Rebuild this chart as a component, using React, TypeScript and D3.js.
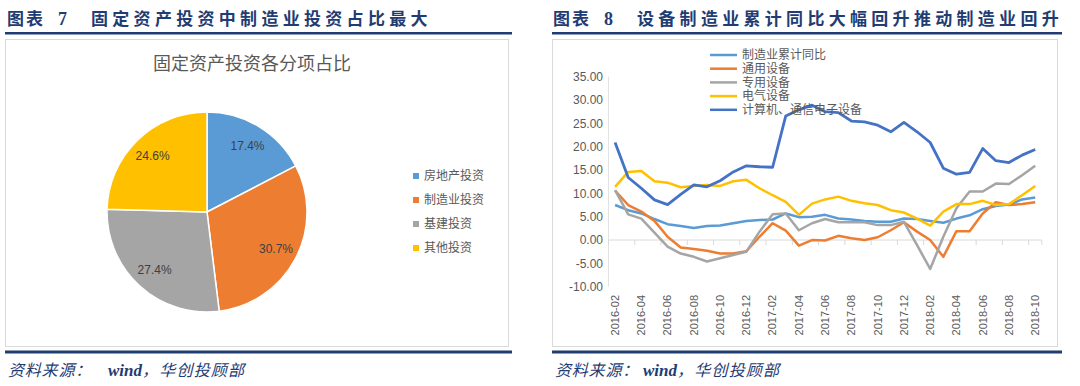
import React from "react";
import * as d3 from "d3";

// ---------- Data ----------
const pieCategories = ["房地产投资", "制造业投资", "基建投资", "其他投资"];
const pieValues = [17.4, 30.7, 27.4, 24.6];
const pieColors = ["#5B9BD5", "#ED7D31", "#A5A5A5", "#FFC000"];

const months = [
  "2016-02", "2016-03", "2016-04", "2016-05", "2016-06", "2016-07", "2016-08", "2016-09",
  "2016-10", "2016-11", "2016-12", "2017-01", "2017-02", "2017-03", "2017-04", "2017-05",
  "2017-06", "2017-07", "2017-08", "2017-09", "2017-10", "2017-11", "2017-12", "2018-01",
  "2018-02", "2018-03", "2018-04", "2018-05", "2018-06", "2018-07", "2018-08", "2018-09",
  "2018-10",
];
const manufacturing = [7.5, 6.4, 5.7, 4.5, 3.4, 3.0, 2.6, 3.0, 3.1, 3.6, 4.1, 4.3, 4.4, 5.7, 4.9, 5.0, 5.4, 4.6, 4.4, 4.1, 3.9, 3.9, 4.6, 4.5, 4.1, 3.7, 4.6, 5.3, 6.6, 7.3, 7.6, 8.7, 9.1];
const generalEquip = [10.6, 7.5, 6.1, 4.1, 0.7, -1.6, -1.9, -2.3, -2.9, -2.9, -2.4, 0.7, 3.6, 2.0, -1.2, 0.0, -0.1, 0.9, 0.4, 0.0, 0.6, 2.1, 3.8, 1.8, 0.0, -3.6, 1.9, 1.9, 5.7, 8.1, 7.5, 7.7, 8.1];
const specialEquip = [10.7, 5.5, 4.6, 1.6, -1.4, -2.9, -3.6, -4.6, -3.9, -3.2, -2.5, 1.8, 5.5, 5.7, 2.1, 3.6, 4.5, 3.8, 3.8, 3.8, 3.2, 3.2, 3.9, -1.1, -6.2, 0.7, 6.8, 10.4, 10.4, 12.1, 12.0, 13.9, 15.9];
const electricalEquip = [11.4, 14.6, 14.8, 12.6, 12.3, 11.3, 11.6, 11.8, 11.6, 12.6, 12.9, 11.1, 9.6, 8.2, 5.4, 7.8, 8.7, 9.3, 8.4, 7.9, 7.5, 6.4, 5.9, 4.6, 3.1, 6.1, 7.7, 7.7, 8.4, 7.5, 7.7, 9.6, 11.6];
const computerEquip = [20.9, 13.4, 11.1, 8.6, 7.6, 9.8, 11.8, 11.4, 12.7, 14.6, 15.9, 15.7, 15.6, 26.6, 27.9, 28.9, 27.5, 27.3, 25.5, 25.3, 24.6, 23.2, 25.2, 23.2, 20.9, 15.4, 14.1, 14.5, 19.6, 17.0, 16.6, 18.2, 19.4];

const seriesNames = ["制造业累计同比", "通用设备", "专用设备", "电气设备", "计算机、通信电子设备"];
const seriesValues = [manufacturing, generalEquip, specialEquip, electricalEquip, computerEquip];
const seriesColors = ["#5B9BD5", "#ED7D31", "#A5A5A5", "#FFC000", "#4472C4"];
const yTicks = [35, 30, 25, 20, 15, 10, 5, 0, -5, -10];

// ---------- Styles ----------
const NAVY = "#1F3C73";
const CJK = "'Noto Sans CJK SC', 'Noto Sans', sans-serif";
const NUM = "'Liberation Sans', Arial, 'Noto Sans CJK SC', sans-serif";
const SERIF = "'Liberation Serif', 'DejaVu Serif', serif";

function Header({ x, num, title }: { x: number; num: string; title: string }) {
  return (
    <g fill={NAVY} fontWeight={700}>
      <text x={x} y={25} fontFamily={CJK} fontSize={17} letterSpacing={2}>图表</text>
      <text x={x + 51} y={25} fontFamily={SERIF} fontSize={18}>{num}</text>
      <text x={x + 84} y={25} fontFamily={CJK} fontSize={17} letterSpacing={4.3}>{title}</text>
    </g>
  );
}

function Footer({ x, gap }: { x: number; gap: number }) {
  return (
    <text x={x} y={376} fontStyle="italic" fontSize={16} fill={NAVY} fontFamily={CJK}>
      <tspan letterSpacing={0.8}>资料来源：</tspan>
      <tspan dx={gap} fontFamily={SERIF} fontWeight={700} fontSize={17}>wind</tspan>
      <tspan letterSpacing={1.2}>，华创投顾部</tspan>
    </text>
  );
}

function PiePanel() {
  const cx = 207, cy = 212, r = 100;
  const pie = d3.pie<number>().sort(null).value((d) => d);
  const arcs = pie(pieValues);
  const arc = d3.arc<d3.PieArcDatum<number>>().innerRadius(0).outerRadius(r);
  const labelArc = d3.arc<d3.PieArcDatum<number>>().innerRadius(r * 0.78).outerRadius(r * 0.78);
  return (
    <g>
      <Header x={7} num="7" title="固定资产投资中制造业投资占比最大" />
      <rect x={5} y={32} width={507} height={2.5} fill={NAVY} />
      <rect x={5.5} y={39.5} width={503} height={307} fill="#fff" stroke="#d9d9d9" />
      <text x={252} y={70} textAnchor="middle" fontFamily={CJK} fontSize={18} fill="#595959">
        固定资产投资各分项占比
      </text>
      <g transform={`translate(${cx},${cy})`}>
        {arcs.map((a, i) => (
          <path key={i} d={arc(a) || ""} fill={pieColors[i]} stroke="#fff" strokeWidth={1.5} />
        ))}
        {arcs.map((a, i) => {
          const [lx, ly] = labelArc.centroid(a);
          return (
            <text key={i} x={lx} y={ly} dy="0.35em" textAnchor="middle" fontFamily={NUM} fontSize={12} fill="#404040">
              {pieValues[i].toFixed(1)}%
            </text>
          );
        })}
      </g>
      {pieCategories.map((c, i) => (
        <g key={c} transform={`translate(416,${176 + i * 24})`}>
          <rect x={-3} y={-3} width={6} height={6} fill={pieColors[i]} />
          <text x={8} y={0} dy="0.35em" fontFamily={CJK} fontSize={12} fill="#595959">
            {c}
          </text>
        </g>
      ))}
      <rect x={5} y={350.5} width={507} height={3} fill={NAVY} />
      <Footer x={8} gap={16} />
    </g>
  );
}

function LinePanel() {
  const left = 608.5, right = 1041.8, top = 76.7, bottom = 286.7;
  const x = d3.scaleBand<string>().domain(months).range([left, right]).paddingInner(0).paddingOuter(0);
  const y = d3.scaleLinear().domain([-10, 35]).range([bottom, top]);
  const bw = x.bandwidth();
  const line = d3
    .line<number>()
    .x((_, i) => (x(months[i]) as number) + bw / 2)
    .y((d) => y(d));
  const y0 = y(0);
  return (
    <g>
      <Header x={553} num="8" title="设备制造业累计同比大幅回升推动制造业回升" />
      <rect x={552} y={32} width={510} height={2.5} fill={NAVY} />
      <rect x={552.5} y={39.5} width={505} height={307} fill="#fff" stroke="#d9d9d9" />
      {/* y axis */}
      <line x1={left} x2={left} y1={top} y2={bottom} stroke="#e3e3e3" />
      {yTicks.map((t) => (
        <text key={t} x={603} y={y(t)} dy="0.35em" textAnchor="end" fontFamily={NUM} fontSize={12} fill="#595959">
          {t.toFixed(2)}
        </text>
      ))}
      {/* zero axis */}
      <line x1={left} x2={right} y1={y0} y2={y0} stroke="#d9d9d9" />
      {months.map((m, i) =>
        i % 2 === 0 ? (
          <line key={m} x1={x(m) as number} x2={x(m) as number} y1={y0} y2={y0 + 5} stroke="#d9d9d9" />
        ) : null
      )}
      <line x1={right} x2={right} y1={y0} y2={y0 + 5} stroke="#d9d9d9" />
      {months.map((m, i) =>
        i % 2 === 0 ? (
          <text
            key={m}
            transform={`translate(${(x(m) as number) + bw / 2},295) rotate(-90)`}
            dy="0.35em"
            textAnchor="end"
            fontFamily={NUM}
            fontSize={11}
            fill="#595959"
          >
            {m}
          </text>
        ) : null
      )}
      {seriesValues.map((vals, si) => (
        <path
          key={si}
          d={line(vals) || ""}
          fill="none"
          stroke={seriesColors[si]}
          strokeWidth={si === 4 ? 2.8 : 2.5}
          strokeLinejoin="round"
        />
      ))}
      {seriesNames.map((n, i) => (
        <g key={n} transform={`translate(710,${55 + i * 13.7})`}>
          <line x1={0} x2={27} y1={0} y2={0} stroke={seriesColors[i]} strokeWidth={2.5} />
          <text x={32} y={0} dy="0.35em" fontFamily={CJK} fontSize={12} fill="#595959">
            {n}
          </text>
        </g>
      ))}
      <rect x={552} y={350.5} width={510} height={3} fill={NAVY} />
      <Footer x={555} gap={4} />
    </g>
  );
}

export default function App() {
  return (
    <svg width={1080} height={386} style={{ position: "absolute", left: 0, top: 0, background: "#fff" }}>
      <rect width={1080} height={386} fill="#fff" />
      <PiePanel />
      <LinePanel />
    </svg>
  );
}
